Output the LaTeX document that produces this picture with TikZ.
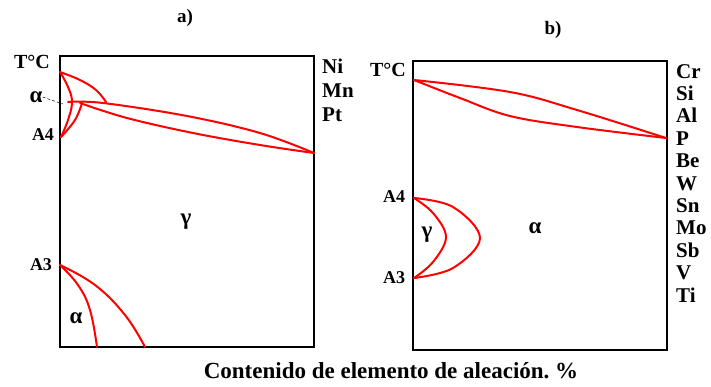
\documentclass[tikz,border=0pt]{standalone}
\usepackage{fontspec}
\setmainfont{Liberation Serif}
\usetikzlibrary{calc}
\definecolor{PhaseRed}{HTML}{FF0000}
\definecolor{PhaseBox}{HTML}{000000}
\tikzset{
  phasebox/.style={PhaseBox,line width=2.4pt},
  phaseline/.style={PhaseRed,line width=2pt,line cap=round,line join=round},
  axislabel/.style={font=\bfseries\fontsize{18}{20}\selectfont,inner sep=0pt},
  elemlabel/.style={font=\bfseries\fontsize{21}{23}\selectfont,inner sep=0pt,anchor=base west},
  phaselabel/.style={font=\bfseries\fontsize{23}{25}\selectfont,inner sep=0pt},
  titlabel/.style={font=\bfseries\fontsize{19}{21}\selectfont}
}

\begin{document}
\begin{tikzpicture}[x=1pt,y=-1pt]
        \useasboundingbox (0,0) rectangle (711,386);

        % panel a)
        \draw[phasebox] (60,56) rectangle (314,347);
        \node[titlabel] (tita) at (185,18) {a)};

        \draw[phaseline] plot[smooth,tension=0.7] coordinates
          {(60,72) (80,80) (96,90) (106,102)};
        \draw[phaseline] plot[smooth,tension=0.7] coordinates
          {(60,72) (68,87) (72,102) (68,120) (61,137)};
        \draw[phaseline] plot[smooth,tension=0.7] coordinates
          {(61,137) (75,120) (82,103)};
        \draw[phaseline] plot[smooth,tension=0.6] coordinates
          {(68,102) (103,103) (187,116) (260,133) (314,153)};
        \draw[phaseline] plot[smooth,tension=0.6] coordinates
          {(80,103) (127,118) (193,133) (260,145) (314,153)};

        \draw[phaseline] plot[smooth,tension=0.7] coordinates
          {(60,265) (78,285) (90,310) (97,347)};
        \draw[phaseline] plot[smooth,tension=0.7] coordinates
          {(60,265) (95,285) (125,315) (145,347)};

        \node[axislabel,font=\bfseries\fontsize{20}{22}\selectfont] (tca) at (32,62) {T°C};
        \node[phaselabel] (alfatop) at (36,97) {α};
        \coordinate (alfatip) at (63,104);
        \draw[densely dashed,line width=0.5pt] (alfatop.east) -- (alfatip);
        \node[axislabel] (afoura) at (43,135) {A4};
        \node[axislabel] (athreea) at (41,265) {A3};
        \node[phaselabel] (gammaa) at (186,222) {γ};
        \node[phaselabel] (alfabot) at (76,318) {α};

        \foreach \el [count=\i from 0] in {Ni,Mn,Pt}{
          \node[elemlabel] (ela\i) at (322,73+24*\i) {\el};
        }

        % panel b)
        \draw[phasebox] (413,61) rectangle (667,350);
        \node[titlabel] (titb) at (553,30) {b)};

        \draw[phaseline] plot[smooth,tension=0.6] coordinates
          {(414,80) (510,92) (577,110) (666,138)};
        \draw[phaseline] plot[smooth,tension=0.6] coordinates
          {(414,80) (460,98) (510,116) (577,127) (666,138)};

        \draw[phaseline] plot[smooth,tension=0.6] coordinates
          {(414,198) (433,213) (446,237) (433,262) (414,278)};
        \draw[phaseline] plot[smooth,tension=0.6] coordinates
          {(414,198) (453,207) (480,238) (453,268) (414,278)};

        \node[axislabel,font=\bfseries\fontsize{20}{22}\selectfont] (tcb) at (388,70) {T°C};
        \node[axislabel] (afourb) at (394,197) {A4};
        \node[axislabel] (athreeb) at (394,278) {A3};
        \node[phaselabel] (gammab) at (427,235) {γ};
        \node[phaselabel] (alfab) at (535,228) {α};

        \foreach \el [count=\i from 0] in {Cr,Si,Al,P,Be,W,Sn,Mo,Sb,V,Ti}{
          \node[elemlabel] (elb\i) at (676,78+22.4*\i) {\el};
        }

        \node[font=\bfseries\fontsize{23}{25}\selectfont] (caption) at (391,371)
          {Contenido de elemento de aleación.\ \%};
      \end{tikzpicture}
\end{document}
